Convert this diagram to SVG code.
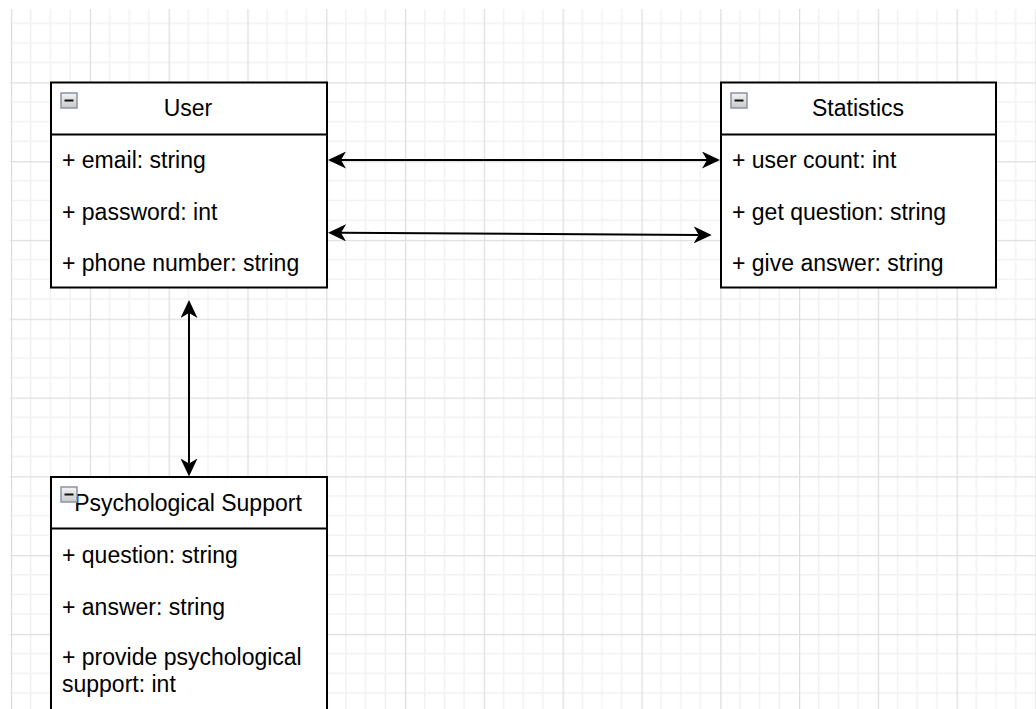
<svg xmlns="http://www.w3.org/2000/svg" width="1036" height="709" viewBox="0 0 1036 709">
  <style>
    .box { fill: #ffffff; stroke: #000000; stroke-width: 2; }
    .sep { stroke: #000000; stroke-width: 2; }
    .title { font-family: "Liberation Sans", Arial, sans-serif; font-size: 23px; fill: #000000; text-anchor: middle; }
    .attr { font-family: "Liberation Sans", Arial, sans-serif; font-size: 23px; fill: #000000; }
    .edge { fill: none; stroke: #000000; stroke-width: 2; }
    .toggle { fill: url(#toggleFill); stroke: #8c94a3; stroke-width: 1.5; }
    .minus { fill: #111111; }
  </style>
  <defs>
    <pattern id="grid" patternUnits="userSpaceOnUse" x="11" y="3.5" width="78.8" height="78.8">
      <path d="M19.7 0V78.8M39.4 0V78.8M59.1 0V78.8M0 19.7H78.8M0 39.4H78.8M0 59.1H78.8" stroke="#f2f2f2" stroke-width="1.5" fill="none"/>
      <path d="M0.5 0V78.8M0 0.5H78.8" stroke="#dedede" stroke-width="1.5" fill="none"/>
    </pattern>
    <linearGradient id="toggleFill" x1="0" y1="0" x2="0" y2="1">
      <stop offset="0" stop-color="#f4f4f4"/>
      <stop offset="1" stop-color="#c9c9c9"/>
    </linearGradient>
    <marker id="arrow" viewBox="0 0 18 17" refX="5" refY="8.5" markerWidth="18" markerHeight="17" markerUnits="userSpaceOnUse" orient="auto-start-reverse">
      <path d="M0 0L18 8.5L0 17L5 8.5Z" fill="#000000"/>
    </marker>
  </defs>

  <!-- canvas background -->
  <rect x="0" y="0" width="1036" height="709" fill="#ffffff"/>
  <rect x="10" y="9" width="1026" height="700" fill="url(#grid)"/>

  <!-- associations -->
  <g id="connectors">
    <line class="edge" x1="341" y1="160" x2="707" y2="160" marker-start="url(#arrow)" marker-end="url(#arrow)"/>
    <line class="edge" x1="341" y1="232.8" x2="698.7" y2="234.9" marker-start="url(#arrow)" marker-end="url(#arrow)"/>
    <line class="edge" x1="189" y1="313" x2="189" y2="463.5" marker-start="url(#arrow)" marker-end="url(#arrow)"/>
  </g>

  <g id="user">
    <rect class="box" x="51" y="82.5" width="276" height="205"/>
    <line class="sep" x1="51" y1="134.5" x2="327" y2="134.5"/>
    <rect class="toggle" x="61" y="93" width="16" height="15"/>
    <rect class="minus" x="64.5" y="99.5" width="9" height="2"/>
    <text class="title" x="188" y="116">User</text>
    <text class="attr" x="62" y="168">+ email: string</text>
    <text class="attr" x="62" y="220">+ password: int</text>
    <text class="attr" x="62" y="271">+ phone number: string</text>
  </g>

  <g id="statistics">
    <rect class="box" x="721" y="82.5" width="275" height="205"/>
    <line class="sep" x1="721" y1="134.5" x2="996" y2="134.5"/>
    <rect class="toggle" x="731" y="93" width="16" height="15"/>
    <rect class="minus" x="734.5" y="99.5" width="9" height="2"/>
    <text class="title" x="858" y="116">Statistics</text>
    <text class="attr" x="732" y="168">+ user count: int</text>
    <text class="attr" x="732" y="220">+ get question: string</text>
    <text class="attr" x="732" y="271">+ give answer: string</text>
  </g>

  <g id="psychological-support">
    <rect class="box" x="51" y="477" width="276" height="250"/>
    <line class="sep" x1="51" y1="528.5" x2="327" y2="528.5"/>
    <text class="title" x="188" y="511">Psychological Support</text>
    <rect class="toggle" x="61" y="487" width="16" height="15"/>
    <rect class="minus" x="64.5" y="493.5" width="9" height="2"/>
    <text class="attr" x="62" y="563">+ question: string</text>
    <text class="attr" x="62" y="615">+ answer: string</text>
    <text class="attr" x="62" y="665">+ provide psychological</text>
    <text class="attr" x="62" y="692">support: int</text>
  </g>
</svg>
